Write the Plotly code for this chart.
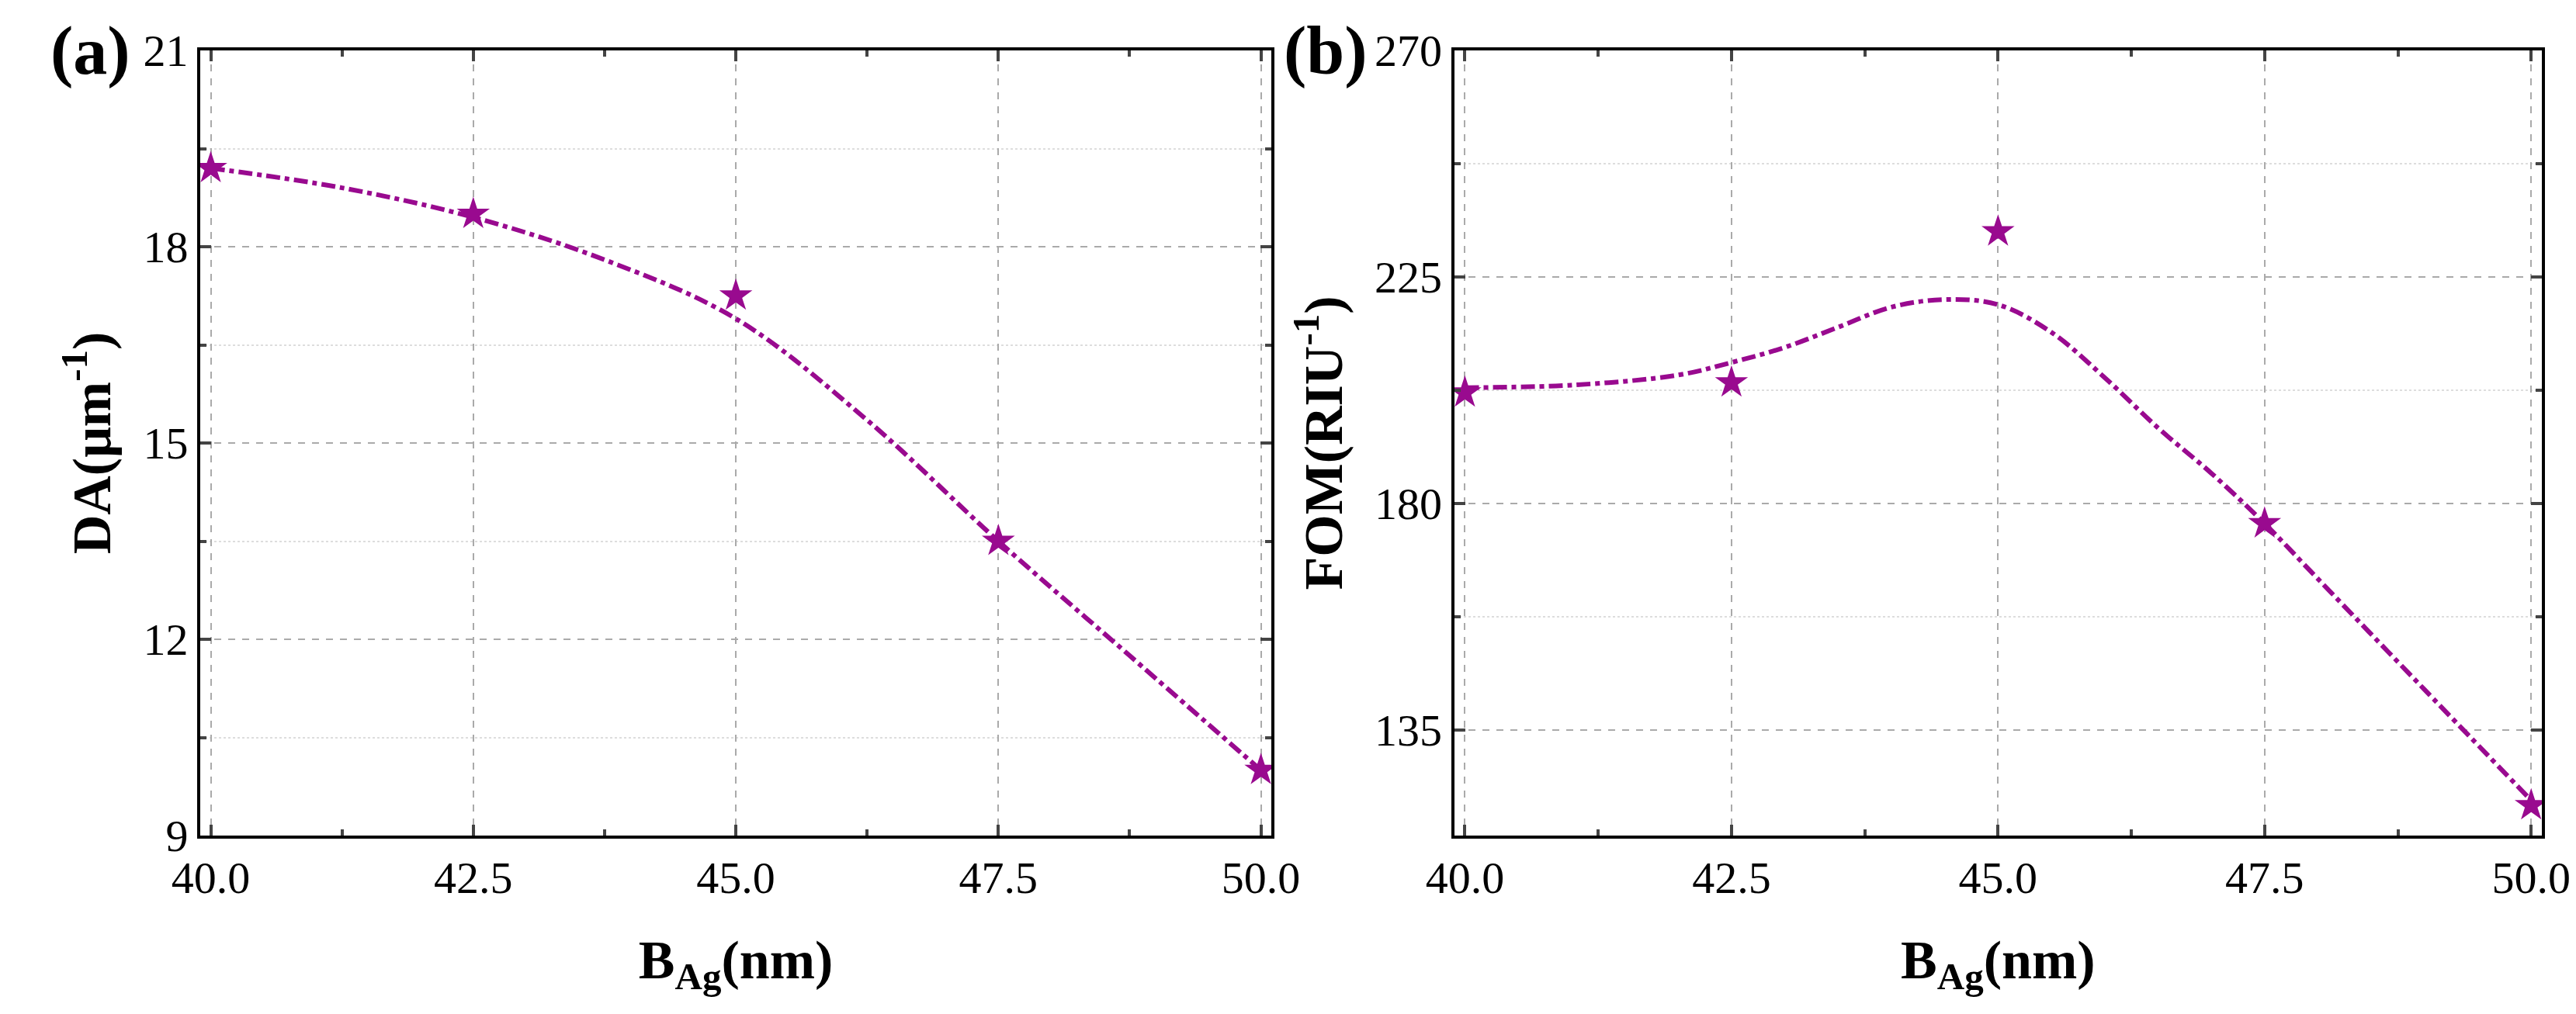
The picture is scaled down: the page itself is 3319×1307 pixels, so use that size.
import plotly.graph_objects as go

# measured points
b_ag = [40.0, 42.5, 45.0, 47.5, 50.0]
da_vals = [19.2, 18.5, 17.25, 13.5, 10.0]
fom_vals = [202, 204, 234, 176, 120]

# fitted curves
da_fit_x = [40, 41.25, 42.5, 43.75, 45, 46.25, 47.5, 48.75, 50]
da_fit_y = [19.2, 18.9, 18.45, 17.8, 16.9, 15.35, 13.5, 11.75, 10.0]
fom_fit_x = [40, 41, 42, 42.5, 43, 43.5, 44, 44.5, 45, 45.5, 46, 46.5, 47, 47.5, 48, 49, 50]
fom_fit_y = [203, 203.5, 205.5, 208, 211, 215, 219, 220.5, 219.5, 214, 205, 195, 186, 176, 165, 143, 121]

purple = "#990a8f"
font = "Liberation Serif"

fig = go.Figure()
for fx, fy, px, py, xa, ya in [
    (da_fit_x, da_fit_y, b_ag, da_vals, "x", "y"),
    (fom_fit_x, fom_fit_y, b_ag, fom_vals, "x2", "y2"),
]:
    fig.add_trace(go.Scatter(x=fx, y=fy, mode="lines", line=dict(color=purple, width=6, dash="dashdot", shape="spline"),
                             xaxis=xa, yaxis=ya, showlegend=False))
    fig.add_trace(go.Scatter(x=px, y=py, mode="markers", marker=dict(symbol="star", size=32, color=purple),
                             xaxis=xa, yaxis=ya, showlegend=False))

tickfont = dict(family=font, size=58, color="black")
titlefont = dict(family=font, size=70, color="black")
common_x = dict(range=[39.9, 50.1], tickvals=[40, 42.5, 45, 47.5, 50], ticktext=["40.0", "42.5", "45.0", "47.5", "50.0"],
                showline=True, linecolor="black", linewidth=4, mirror="allticks", ticks="inside", ticklen=14,
                tickwidth=4, showgrid=True, gridcolor="#aaaaaa", griddash="dash", gridwidth=2,
                minor=dict(tickvals=[41.25, 43.75, 46.25, 48.75], ticks="inside", ticklen=8, tickwidth=4,
                           showgrid=False),
                tickfont=tickfont, zeroline=False,
                title=dict(text="<b>B<sub>Ag</sub>(nm)</b>", font=titlefont, standoff=50))
common_y = dict(showline=True, linecolor="black", linewidth=4, mirror="allticks", ticks="inside", ticklen=14,
                tickwidth=4, showgrid=True, gridcolor="#aaaaaa", griddash="dash", gridwidth=2,
                tickfont=tickfont, zeroline=False)

fig.update_layout(
    width=3319, height=1307, plot_bgcolor="white", paper_bgcolor="white",
    margin=dict(l=250, r=40, t=57, b=238),
    font=dict(family=font),
    xaxis=dict(domain=[0, 0.457], anchor="y", **common_x),
    xaxis2=dict(domain=[0.535, 0.999], anchor="y2", **common_x),
    yaxis=dict(range=[9, 21], tickvals=[9, 12, 15, 18, 21], anchor="x",
               minor=dict(tickvals=[10.5, 13.5, 16.5, 19.5], ticks="inside", ticklen=8, tickwidth=4,
                          showgrid=True, gridcolor="#dddddd", griddash="dot", gridwidth=2),
               title=dict(text="<b>DA(μm<sup>-1</sup>)</b>", font=titlefont, standoff=20), **common_y),
    yaxis2=dict(range=[114, 270], tickvals=[135, 180, 225, 270], anchor="x2",
                minor=dict(tickvals=[157.5, 202.5, 247.5], ticks="inside", ticklen=8, tickwidth=4,
                           showgrid=True, gridcolor="#dddddd", griddash="dot", gridwidth=2),
                title=dict(text="<b>FOM(RIU<sup>-1</sup>)</b>", font=titlefont, standoff=20), **common_y),
)
fig.update_xaxes(tickprefix="<b>", ticksuffix="</b>")
fig.update_yaxes(tickprefix="<b>", ticksuffix="</b>")

fig.add_annotation(text="<b>(a)</b>", xref="paper", yref="paper", x=-0.047, y=1.0, showarrow=False,
                   font=dict(family=font, size=88, color="black"), xanchor="center", yanchor="middle")
fig.add_annotation(text="<b>(b)</b>", xref="paper", yref="paper", x=0.48, y=1.0, showarrow=False,
                   font=dict(family=font, size=88, color="black"), xanchor="center", yanchor="middle")

fig.write_html("out.html")
